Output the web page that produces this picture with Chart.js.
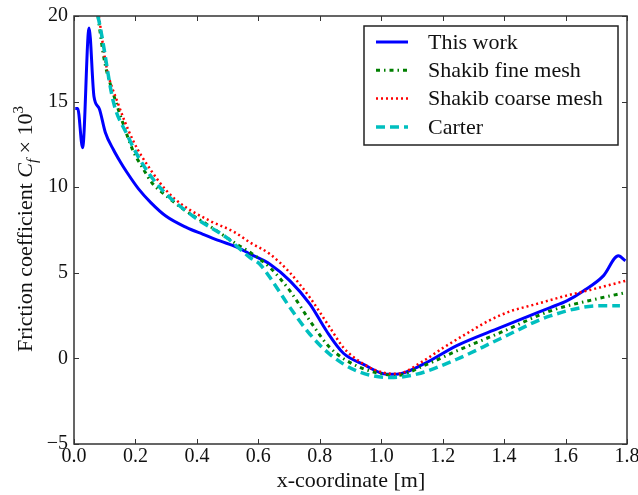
<!DOCTYPE html>
<html><head><meta charset="utf-8">
<script src="https://cdn.jsdelivr.net/npm/chart.js@4/dist/chart.umd.min.js"></script>
<style>html,body{margin:0;padding:0;background:#fff;}canvas{display:block;}</style>
</head><body>
<canvas id="c" width="638" height="495"></canvas>
<script>
// ---- data ----
const seriesNames = ['This work', 'Shakib fine mesh', 'Shakib coarse mesh', 'Carter'];
const xTickValues = [0, 0.2, 0.4, 0.6, 0.8, 1.0, 1.2, 1.4, 1.6, 1.8];
const yTickValues = [-5, 0, 5, 10, 15, 20];
const xTitle = 'x-coordinate [m]';

const thisWorkX = [0.004, 0.012, 0.028, 0.049, 0.065, 0.082, 0.102, 0.128, 0.150, 0.171, 0.210, 0.250, 0.300, 0.367, 0.420, 0.475, 0.530, 0.573, 0.638, 0.703, 0.768, 0.822, 0.877, 0.942, 1.018, 1.050, 1.137, 1.246, 1.387, 1.470, 1.550, 1.604, 1.658, 1.723, 1.772, 1.795];
const thisWorkY = [14.6, 14.6, 12.3, 19.3, 15.3, 14.6, 13.2, 12.2, 11.5, 10.9, 9.9, 9.1, 8.3, 7.64, 7.25, 6.86, 6.5, 6.1, 5.5, 4.53, 3.17, 1.6, 0.3, -0.35, -0.92, -0.92, -0.34, 0.75, 1.8, 2.4, 2.97, 3.36, 3.94, 4.82, 5.99, 5.7];

const fineX = [0.078, 0.095, 0.106, 0.122, 0.160, 0.193, 0.226, 0.253, 0.300, 0.365, 0.432, 0.530, 0.573, 0.638, 0.703, 0.768, 0.833, 0.920, 1.007, 1.050, 1.137, 1.246, 1.387, 1.550, 1.712, 1.795];
const fineY = [20.0, 17.8, 16.8, 15.8, 13.7, 12.1, 11.05, 10.27, 9.5, 8.6, 7.84, 6.67, 6.2, 5.3, 3.94, 2.19, 0.63, -0.44, -0.92, -1.0, -0.44, 0.44, 1.5, 2.77, 3.52, 3.84];

const coarseX = [0.081, 0.106, 0.141, 0.193, 0.250, 0.302, 0.350, 0.443, 0.520, 0.573, 0.638, 0.703, 0.768, 0.833, 0.877, 0.940, 1.007, 1.050, 1.137, 1.200, 1.278, 1.350, 1.420, 1.500, 1.600, 1.680, 1.795];
const coarseY = [20.0, 17.0, 15.0, 12.7, 11.0, 9.78, 9.0, 8.03, 7.4, 6.77, 6.09, 5.0, 3.55, 1.8, 0.63, -0.3, -0.83, -0.9, -0.15, 0.6, 1.45, 2.2, 2.75, 3.15, 3.65, 4.0, 4.53];

const carterX = [0.078, 0.090, 0.128, 0.172, 0.215, 0.280, 0.388, 0.497, 0.573, 0.605, 0.638, 0.703, 0.768, 0.833, 0.920, 1.030, 1.116, 1.246, 1.387, 1.550, 1.712, 1.777];
const carterY = [20.0, 18.9, 15.0, 13.1, 11.6, 9.98, 8.3, 7.05, 5.89, 5.5, 4.72, 2.97, 1.41, 0.24, -0.73, -1.12, -0.92, -0.05, 1.15, 2.48, 3.07, 3.07];

const FONT = '"Liberation Serif", "Times New Roman", serif';
const pts = (xs, ys) => xs.map((x, i) => ({x: x, y: ys[i]}));

// ---- plugin: frame, inward ticks, legend, y title ----
const decor = {
  id: 'decor',
  afterDatasetsDraw(chart) {
    const ctx = chart.ctx, a = chart.chartArea;
    const xs = chart.scales.x, ys = chart.scales.y;
    ctx.save();
    ctx.strokeStyle = '#333';
    ctx.lineWidth = 1.5;
    ctx.strokeRect(a.left, a.top, a.right - a.left, a.bottom - a.top);
    ctx.lineWidth = 1;
    ctx.beginPath();
    const tl = 5;
    xs.ticks.forEach(t => {
      const px = Math.round(xs.getPixelForValue(t.value)) + 0.5;
      ctx.moveTo(px, a.bottom); ctx.lineTo(px, a.bottom - tl);
      ctx.moveTo(px, a.top); ctx.lineTo(px, a.top + tl);
    });
    ys.ticks.forEach(t => {
      const py = Math.round(ys.getPixelForValue(t.value)) + 0.5;
      ctx.moveTo(a.left, py); ctx.lineTo(a.left + tl, py);
      ctx.moveTo(a.right, py); ctx.lineTo(a.right - tl, py);
    });
    ctx.stroke();

    // legend (in series order)
    const bx = 364, by = 26, bw = 254, bh = 119;
    ctx.fillStyle = '#fff';
    ctx.fillRect(bx, by, bw, bh);
    ctx.strokeStyle = '#222';
    ctx.lineWidth = 1.5;
    ctx.strokeRect(bx, by, bw, bh);
    ctx.font = '22px ' + FONT;
    ctx.textBaseline = 'middle';
    ctx.textAlign = 'left';
    seriesNames.forEach((name, i) => {
      const d = chart.data.datasets.find(ds => ds.label === name);
      const y = 42 + i * 28.3;
      ctx.save();
      ctx.strokeStyle = d.borderColor;
      ctx.lineWidth = d.borderWidth;
      ctx.setLineDash(d.borderDash || []);
      ctx.beginPath();
      ctx.moveTo(376, y); ctx.lineTo(408, y);
      ctx.stroke();
      ctx.restore();
      ctx.fillStyle = '#111';
      ctx.fillText(name, 428, y + 1);
    });
    ctx.restore();
  },
  afterDraw(chart) {
    const ctx = chart.ctx;
    ctx.save();
    ctx.fillStyle = '#111';
    ctx.font = '22px ' + FONT;
    ctx.textAlign = 'center';
    ctx.textBaseline = 'alphabetic';
    ctx.fillText(xTitle, 351, 487);
    const segs = [
      {t: 'Friction coefficient ', f: '22px ' + FONT, dy: 0},
      {t: 'C', f: 'italic 22px ' + FONT, dy: 0},
      {t: 'f', f: 'italic 15px ' + FONT, dy: 5},
      {t: ' \u00d7 10', f: '22px ' + FONT, dy: 0},
      {t: '3', f: '15px ' + FONT, dy: -9}
    ];
    let total = 0;
    segs.forEach(s => { ctx.font = s.f; s.w = ctx.measureText(s.t).width; total += s.w; });
    ctx.translate(32, 229);
    ctx.rotate(-Math.PI / 2);
    ctx.textAlign = 'left';
    let x = -total / 2;
    segs.forEach(s => { ctx.font = s.f; ctx.fillText(s.t, x, s.dy); x += s.w; });
    ctx.restore();
  }
};

// drawn back to front: Carter, coarse, fine, then This work on top
new Chart(document.getElementById('c'), {
  type: 'line',
  data: {
    datasets: [
      {label: seriesNames[3], data: pts(carterX, carterY), borderColor: '#00bfbf', borderWidth: 3.5, borderDash: [9, 5]},
      {label: seriesNames[2], data: pts(coarseX, coarseY), borderColor: '#ff0000', borderWidth: 2.5, borderDash: [2, 3]},
      {label: seriesNames[1], data: pts(fineX, fineY), borderColor: '#007f00', borderWidth: 3, borderDash: [4, 4, 1.5, 4]},
      {label: seriesNames[0], data: pts(thisWorkX, thisWorkY), borderColor: '#0000ff', borderWidth: 3, borderDash: []}
    ]
  },
  options: {
    responsive: false,
    devicePixelRatio: 1,
    animation: false,
    layout: {padding: {left: 0, top: 16, right: 11, bottom: 0}},
    elements: {
      point: {radius: 0, hoverRadius: 0},
      line: {cubicInterpolationMode: 'monotone', fill: false, borderCapStyle: 'butt', borderJoinStyle: 'round'}
    },
    plugins: {legend: {display: false}, tooltip: {enabled: false}},
    scales: {
      x: {
        type: 'linear', min: 0, max: 1.8,
        afterBuildTicks(s) { s.ticks = xTickValues.map(v => ({value: v})); },
        afterFit(s) { s.height = 51; s.paddingLeft = 0; s.paddingRight = 0; },
        grid: {display: false, drawTicks: false},
        border: {display: false},
        ticks: {padding: 1, color: '#111', font: {family: FONT, size: 20}, maxRotation: 0, autoSkip: false,
          callback: v => Number(v).toFixed(1)}
      },
      y: {
        type: 'linear', min: -5, max: 20,
        afterBuildTicks(s) { s.ticks = yTickValues.map(v => ({value: v})); },
        afterFit(s) { s.width = 74; s.paddingTop = 0; s.paddingBottom = 0; },
        grid: {display: false, drawTicks: false},
        border: {display: false},
        ticks: {padding: 6, color: '#111', font: {family: FONT, size: 20}, autoSkip: false,
          callback: v => String(v).replace('-', '\u2212')}
      }
    }
  },
  plugins: [decor]
});
</script>
</body></html>
